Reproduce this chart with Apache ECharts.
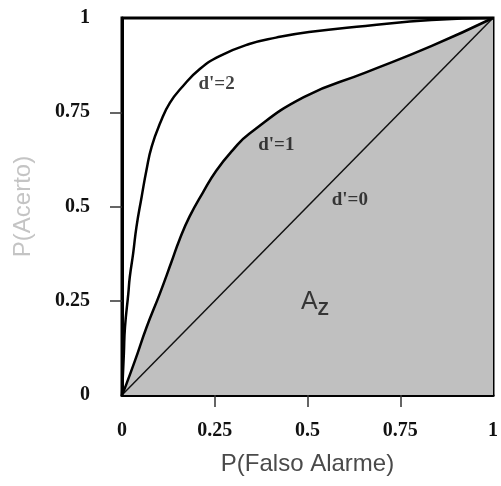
<!DOCTYPE html>
<html>
<head>
<meta charset="utf-8">
<script src="https://cdn.jsdelivr.net/npm/echarts@6/dist/echarts.min.js"></script>
<style>html,body{margin:0;padding:0;background:#fff}#c{width:501px;height:486px}</style>
</head>
<body>
<div id="c"></div>
<script>
// d'=2 ROC curve [P(Falso Alarme), P(Acerto)]
var rocD2 = [[0,0],[0.005,0.109],[0.008,0.179],[0.017,0.269],[0.021,0.313],[0.030,0.375],[0.039,0.446],[0.053,0.526],[0.066,0.597],[0.080,0.659],[0.104,0.724],[0.129,0.775],[0.164,0.819],[0.209,0.864],[0.263,0.899],[0.343,0.931],[0.415,0.948],[0.504,0.963],[0.656,0.979],[0.834,0.995],[1,1]];
// d'=1 ROC curve
var rocD1 = [[0,0],[0.008,0.019],[0.035,0.091],[0.066,0.179],[0.102,0.269],[0.133,0.352],[0.155,0.412],[0.182,0.473],[0.218,0.537],[0.254,0.595],[0.298,0.649],[0.343,0.693],[0.490,0.790],[0.656,0.855],[0.835,0.926],[1,1]];
// d'=0 chance line
var rocD0 = [[0,0],[1,1]];
// annotation labels
var curveLabels = [
  {text:"d'=2", pos:[0.255,0.824]},
  {text:"d'=1", pos:[0.416,0.664]},
  {text:"d'=0", pos:[0.614,0.517]}
];
var areaLabelPos = [0.52,0.24];
var tickValues = [0,0.25,0.5,0.75,1];
var innerTicks = [0.25,0.5,0.75];

var chart = echarts.init(document.getElementById('c'));
var serifBold = {fontFamily:'Liberation Serif', fontWeight:'bold', fontSize:20, color:'#111'};
chart.setOption({
  animation:false,
  grid:{left:122,right:2,top:18,bottom:91,show:true,borderColor:'#000',borderWidth:3,backgroundColor:'transparent'},
  xAxis:{type:'value',min:0,max:1,interval:0.25,
    name:'P(Falso Alarme)',nameLocation:'middle',nameGap:57,
    nameTextStyle:{fontFamily:'Liberation Sans',fontSize:24,color:'#4a4a4a'},
    axisLine:{show:true,lineStyle:{color:'#000',width:3}},
    axisTick:{show:true,inside:false,length:12,customValues:innerTicks,lineStyle:{color:'#333',width:1.5}},
    axisLabel:Object.assign({margin:26,customValues:tickValues,showMinLabel:true,showMaxLabel:true},serifBold),
    splitLine:{show:false}},
  yAxis:{type:'value',min:0,max:1,interval:0.25,
    name:'P(Acerto)',nameLocation:'middle',nameGap:87,
    nameTextStyle:{fontFamily:'Liberation Sans',fontSize:24,color:'#c4c4c4'},
    axisLine:{show:true,lineStyle:{color:'#000',width:3}},
    axisTick:{show:true,inside:false,length:12,customValues:innerTicks,lineStyle:{color:'#333',width:1.5}},
    axisLabel:Object.assign({margin:32,customValues:tickValues,showMinLabel:true,showMaxLabel:true},serifBold),
    splitLine:{show:false}},
  series:[
    {type:'line',data:rocD1,symbol:'none',smooth:0.5,z:1,
      lineStyle:{width:0},areaStyle:{color:'#c0c0c0',opacity:1,origin:'start'}},
    {type:'line',data:rocD0,symbol:'none',z:3,lineStyle:{color:'#111',width:1.5}},
    {type:'line',data:rocD1,symbol:'none',smooth:0.5,z:3,lineStyle:{color:'#000',width:2.5}},
    {type:'line',data:rocD2,symbol:'none',smooth:0.5,z:3,lineStyle:{color:'#000',width:2.5}},
    {type:'scatter',symbolSize:0,z:4,
      data:curveLabels.map(function(d){return {value:d.pos,label:{formatter:d.text}};}),
      label:Object.assign({show:true,position:'inside'},serifBold,{fontSize:19})},
    {type:'scatter',symbolSize:0,z:4,data:[areaLabelPos],
      label:{show:true,position:'inside',formatter:'{a|A}{z|Z}',
        rich:{a:{fontFamily:'Liberation Sans',fontSize:25,color:'#111',verticalAlign:'top'},
              z:{fontFamily:'Liberation Sans',fontSize:18,fontWeight:'bold',color:'#111',padding:[12,0,0,0],verticalAlign:'top'}}}}
  ]
});
</script>
</body>
</html>
